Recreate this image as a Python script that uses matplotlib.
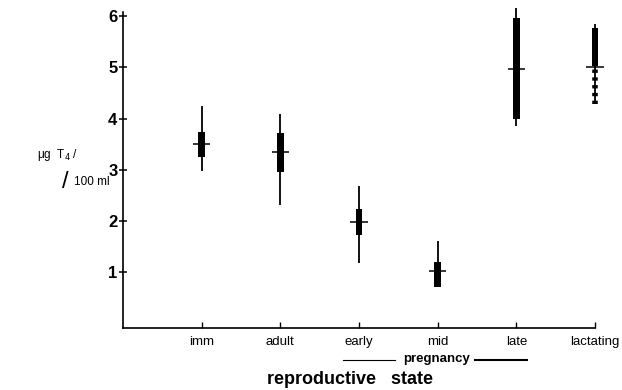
import numpy as np
import matplotlib.pyplot as plt

plt.rcParams['font.family'] = ['Liberation Sans', 'DejaVu Sans']

# values (ug T4 / 100 ml)
states = ['imm', 'adult', 'early', 'mid', 'late', 'lactating']
means = [3.51, 3.34, 1.98, 1.02, 4.96, 5.01]
box_lo = [3.24, 2.95, 1.72, 0.72, 4.00, 5.03]
box_hi = [3.74, 3.71, 2.23, 1.20, 5.96, 5.77]
whisk_lo = [2.98, 2.31, 1.18, 0.72, 3.86, 4.28]
whisk_hi = [4.25, 4.08, 2.68, 1.60, 6.15, 5.84]
yticks = [1, 2, 3, 4, 5, 6]

x = np.arange(1, len(states) + 1)

fig = plt.figure(figsize=(6.22, 3.9), dpi=100)
ax = fig.add_axes([123 / 622, 62 / 390, 472 / 622, 316 / 390])

# whiskers, boxes and mean marks
heights = np.array(box_hi) - np.array(box_lo)
ax.vlines(x, whisk_lo, whisk_hi, color='black', lw=1.3, clip_on=False)
ax.bar(x, heights, bottom=box_lo, width=0.085, color='black', clip_on=False)
ax.hlines(means, x - 0.11, x + 0.11, color='black', lw=1.1, clip_on=False)
# lower part of lactating looks speckled
ax.vlines(x[-1], whisk_lo[-1], box_lo[-1], color='black', lw=4,
          linestyles=(0, (0.6, 0.8)), clip_on=False)

ax.set_xlim(0, 6)
ax.set_ylim(-0.09, 6.08)
ax.spines['top'].set_visible(False)
ax.spines['right'].set_visible(False)
ax.spines['left'].set_linewidth(1.2)
ax.spines['bottom'].set_linewidth(1.2)

ax.set_yticks(yticks)
ax.set_yticklabels([str(v) for v in yticks], fontsize=12, fontweight='bold')
ax.tick_params(axis='y', direction='inout', length=6, width=1.1, pad=1)
ax.set_xticks(x)
ax.set_xticklabels(states, fontsize=9.5)
ax.tick_params(axis='x', direction='in', length=4, width=1, pad=6)

# y label in two slanted lines
fig.text(37 / 622, 1 - 155 / 390, '\u03bcg  T$_4$ /', fontsize=8.5, ha='left', va='center')
fig.text(62 / 622, 1 - 182 / 390, '/', fontsize=17, ha='left', va='center')
fig.text(74 / 622, 1 - 182 / 390, '100 ml', fontsize=8.5, ha='left', va='center')

# pregnancy bracket and axis title
fig.text(437 / 622, 1 - 359 / 390, 'pregnancy', fontsize=9.5, fontweight='bold',
         ha='center', va='center')
fig.add_artist(plt.Line2D([343 / 622, 395 / 622], [1 - 360 / 390] * 2,
                          color='black', lw=0.8))
fig.add_artist(plt.Line2D([475 / 622, 527 / 622], [1 - 360 / 390] * 2,
                          color='black', lw=1.5))
fig.text(350 / 622, 1 - 379 / 390, 'reproductive   state', fontsize=13,
         fontweight='bold', ha='center', va='center')

plt.savefig('out.png', dpi=100)
